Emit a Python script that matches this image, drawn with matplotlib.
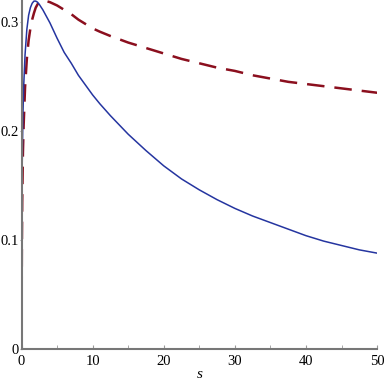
import matplotlib
matplotlib.use("Agg")
import matplotlib.pyplot as plt
from matplotlib.ticker import MultipleLocator

s = [0, 0.05, 0.1, 0.2, 0.3, 0.5, 0.75, 1, 1.25, 1.5, 1.75, 2, 2.25, 2.5, 3,
     3.5, 4, 5, 6, 7, 8, 9, 10, 11, 12.5, 15, 17.5, 20, 22.5, 25, 27.5, 30,
     32.5, 35, 37.5, 40, 42.5, 45, 47.5, 50]
solid = [0, 0.12, 0.17, 0.215, 0.24, 0.27, 0.293, 0.306, 0.313, 0.317, 0.319,
         0.319, 0.318, 0.316, 0.311, 0.305, 0.299, 0.285, 0.272, 0.262, 0.251,
         0.242, 0.233, 0.225, 0.214, 0.197, 0.182, 0.168, 0.156, 0.146, 0.137,
         0.129, 0.122, 0.116, 0.110, 0.104, 0.099, 0.095, 0.091, 0.088]
dashed = [0, 0.09, 0.135, 0.18, 0.205, 0.24, 0.266, 0.283, 0.294, 0.302, 0.308,
          0.313, 0.316, 0.318, 0.319, 0.319, 0.318, 0.315, 0.311, 0.307, 0.302,
          0.298, 0.294, 0.291, 0.287, 0.281, 0.276, 0.271, 0.266, 0.262, 0.258,
          0.255, 0.251, 0.248, 0.245, 0.243, 0.241, 0.239, 0.237, 0.235]
xticks = [0, 10, 20, 30, 40, 50]
yticks = [0, 0.1, 0.2, 0.3]

plt.rcParams['font.family'] = ['Liberation Serif', 'DejaVu Serif']
fig = plt.figure(figsize=(3.84, 3.82), dpi=100)
ax = fig.add_axes([0.056, 0.086, 0.926, 0.914])

ax.plot(s, dashed, color='#8b0f1e', lw=1.8, dashes=(7, 4))
ax.plot(s, solid, color='#2535a0', lw=1.1)

ax.set_xlim(0, 50)
ax.set_ylim(0, 0.32)
ax.set_xticks(xticks)
ax.set_yticks(yticks)
ax.set_yticklabels(['0', '0.1', '0.2', '0.3'])
ax.xaxis.set_minor_locator(MultipleLocator(5))
ax.tick_params(axis='x', which='both', direction='in', length=3, color='#999999', labelsize=10.5, pad=4)
ax.tick_params(axis='y', which='both', direction='out', length=1.5, color='#999999', labelsize=10.5, pad=0.5)
ax.spines['top'].set_visible(False)
ax.spines['right'].set_visible(False)
for sp in ['left', 'bottom']:
    ax.spines[sp].set_color('#777777')
    ax.spines[sp].set_linewidth(1.5)
ax.set_xlabel('s', fontstyle='italic', fontsize=11, labelpad=0)

fig.savefig('out.png', dpi=100)
